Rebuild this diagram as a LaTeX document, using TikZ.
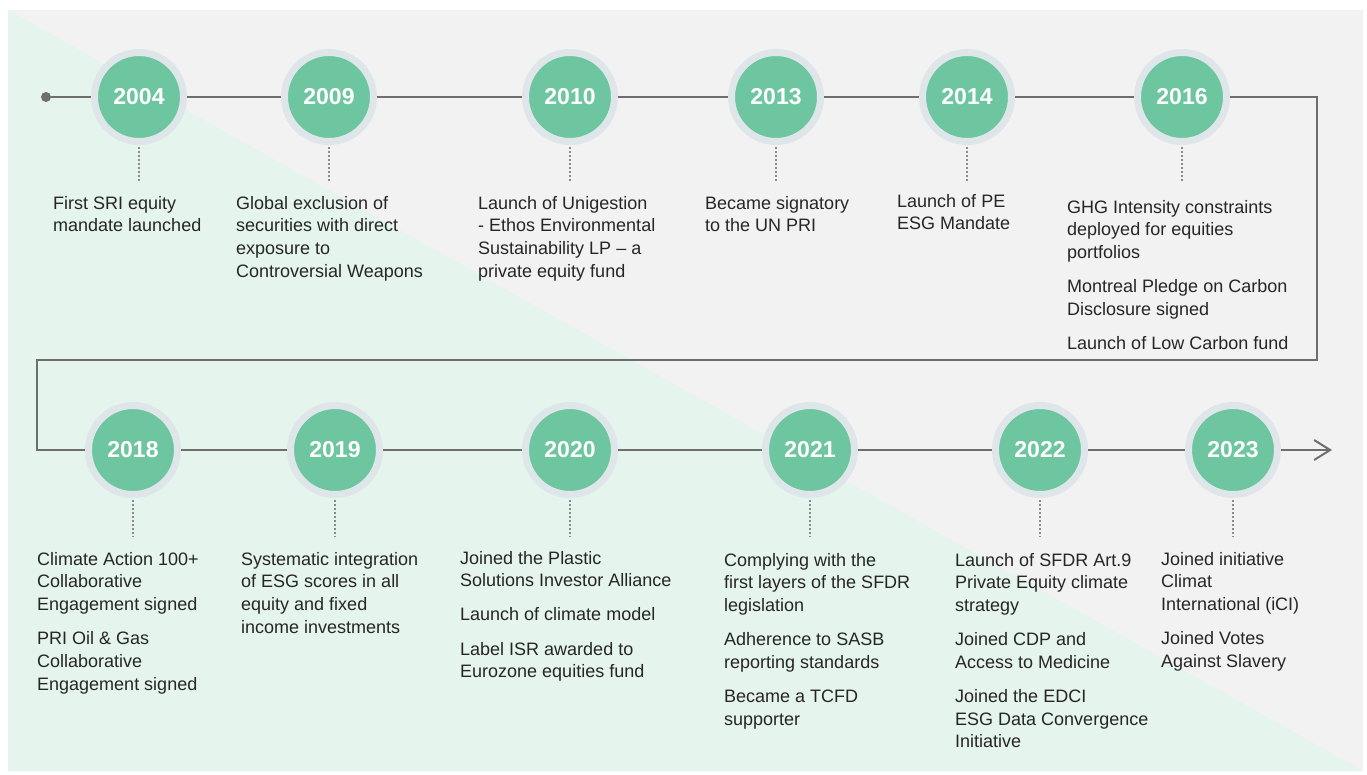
\documentclass[tikz,border=0pt]{standalone}
\usepackage{fontspec}
\setmainfont{Liberation Sans}
\usetikzlibrary{arrows.meta}
\definecolor{bggray}{HTML}{F2F2F2}
\definecolor{bggreen}{HTML}{E5F4ED}
\definecolor{yeargreen}{HTML}{6DC6A0}
\definecolor{halo}{HTML}{DEE6E9}
\definecolor{linegray}{HTML}{6E6E6E}
\definecolor{dotgray}{HTML}{8A8A8A}
\definecolor{txt}{HTML}{262626}
\newcommand\evtext[1]{\begin{tabular}[t]{@{}l@{}}#1\end{tabular}}
\newcommand\gap{\\[11.5pt]}
\begin{document}
\begin{tikzpicture}[x=1pt,y=-1pt,
  year/.style={circle, fill=yeargreen, draw=halo, line width=7pt, minimum size=89pt,
    inner sep=0pt, text=white, font=\fontsize{23}{23}\selectfont\bfseries},
  tl/.style={draw=linegray, line width=2pt},
  leader/.style={draw=dotgray, line width=1.6pt, dash pattern=on 1.6pt off 2.4pt},
  desc/.style={anchor=base west, inner sep=0pt, text=txt, font=\fontsize{18}{22.7}\selectfont}
]
\useasboundingbox (0,0) rectangle (1367,774);
\fill[white] (0,0) rectangle (1367,774);
\fill[bggray] (8,10) rectangle (1363,771);
\fill[bggreen] (8,10) -- (1363,771) -- (8,771) -- cycle;

% start dot
\node[circle, fill=linegray, minimum size=10pt, inner sep=0pt] (dot) at (46,97) {};

% year nodes, row 1
\node[year] (y2004) at (139,97) {2004};
\node[year] (y2009) at (329,97) {2009};
\node[year] (y2010) at (570,97) {2010};
\node[year] (y2013) at (776,97) {2013};
\node[year] (y2014) at (967,97) {2014};
\node[year] (y2016) at (1182,97) {2016};
% row 2
\node[year] (y2018) at (133,450) {2018};
\node[year] (y2019) at (335,450) {2019};
\node[year] (y2020) at (570,450) {2020};
\node[year] (y2021) at (810,450) {2021};
\node[year] (y2022) at (1040,450) {2022};
\node[year] (y2023) at (1233,450) {2023};

% bends of the timeline
\coordinate (c1) at (1317,97);
\coordinate (c2) at (1317,360);
\coordinate (c3) at (37,360);
\coordinate (c4) at (37,450);
\coordinate (tlend) at (1332,450);

% timeline
\draw[tl] (dot) -- (y2004);
\draw[tl] (y2004) -- (y2009);
\draw[tl] (y2009) -- (y2010);
\draw[tl] (y2010) -- (y2013);
\draw[tl] (y2013) -- (y2014);
\draw[tl] (y2014) -- (y2016);
\draw[tl] (y2016) -- (c1) -- (c2) -- (c3) -- (c4) -- (y2018);
\draw[tl] (y2018) -- (y2019);
\draw[tl] (y2019) -- (y2020);
\draw[tl] (y2020) -- (y2021);
\draw[tl] (y2021) -- (y2022);
\draw[tl] (y2022) -- (y2023);
\draw[tl, -{Straight Barb[length=16pt,width=20pt]}] (y2023) -- (tlend);

% leader ends
\coordinate (l2004) at (139,182);
\coordinate (l2009) at (329,182);
\coordinate (l2010) at (570,182);
\coordinate (l2013) at (776,182);
\coordinate (l2014) at (967,182);
\coordinate (l2016) at (1182,182);
\coordinate (l2018) at (133,537);
\coordinate (l2019) at (335,537);
\coordinate (l2020) at (570,537);
\coordinate (l2021) at (810,537);
\coordinate (l2022) at (1040,537);
\coordinate (l2023) at (1233,537);
\foreach \y in {2004,2009,2010,2013,2014,2016,2018,2019,2020,2021,2022,2023}
  \draw[leader] ([yshift=-2pt]y\y.south) -- (l\y);

% descriptions, row 1
\node[desc] (t2004) at (53,209) {\evtext{First SRI equity\\mandate launched}};
\node[desc] (t2009) at (236,209) {\evtext{Global exclusion of\\securities with direct\\exposure to\\Controversial Weapons}};
\node[desc] (t2010) at (478,209) {\evtext{Launch of Unigestion\\- Ethos Environmental\\Sustainability LP -- a\\private equity fund}};
\node[desc] (t2013) at (705,209) {\evtext{Became signatory\\to the UN PRI}};
\node[desc] (t2014) at (897,207) {\evtext{Launch of PE\\ESG Mandate}};
\node[desc] (t2016) at (1067,213) {\evtext{GHG Intensity constraints\\deployed for equities\\portfolios\gap Montreal Pledge on Carbon\\Disclosure signed\gap Launch of Low Carbon fund}};
% row 2
\node[desc] (t2018) at (37,565) {\evtext{Climate Action 100+\\Collaborative\\Engagement signed\gap PRI Oil \& Gas\\Collaborative\\Engagement signed}};
\node[desc] (t2019) at (241,565) {\evtext{Systematic integration\\of ESG scores in all\\equity and fixed\\income investments}};
\node[desc] (t2020) at (460,564) {\evtext{Joined the Plastic\\Solutions Investor Alliance\gap Launch of climate model\gap Label ISR awarded to\\Eurozone equities fund}};
\node[desc] (t2021) at (724,566) {\evtext{Complying with the\\first layers of the SFDR\\legislation\gap Adherence to SASB\\reporting standards\gap Became a TCFD\\supporter}};
\node[desc] (t2022) at (955,566) {\evtext{Launch of SFDR Art.9\\Private Equity climate\\strategy\gap Joined CDP and\\Access to Medicine\gap Joined the EDCI\\ESG Data Convergence\\Initiative}};
\node[desc] (t2023) at (1161,565) {\evtext{Joined initiative\\Climat\\International (iCI)\gap Joined Votes\\Against Slavery}};
\end{tikzpicture}
\end{document}
